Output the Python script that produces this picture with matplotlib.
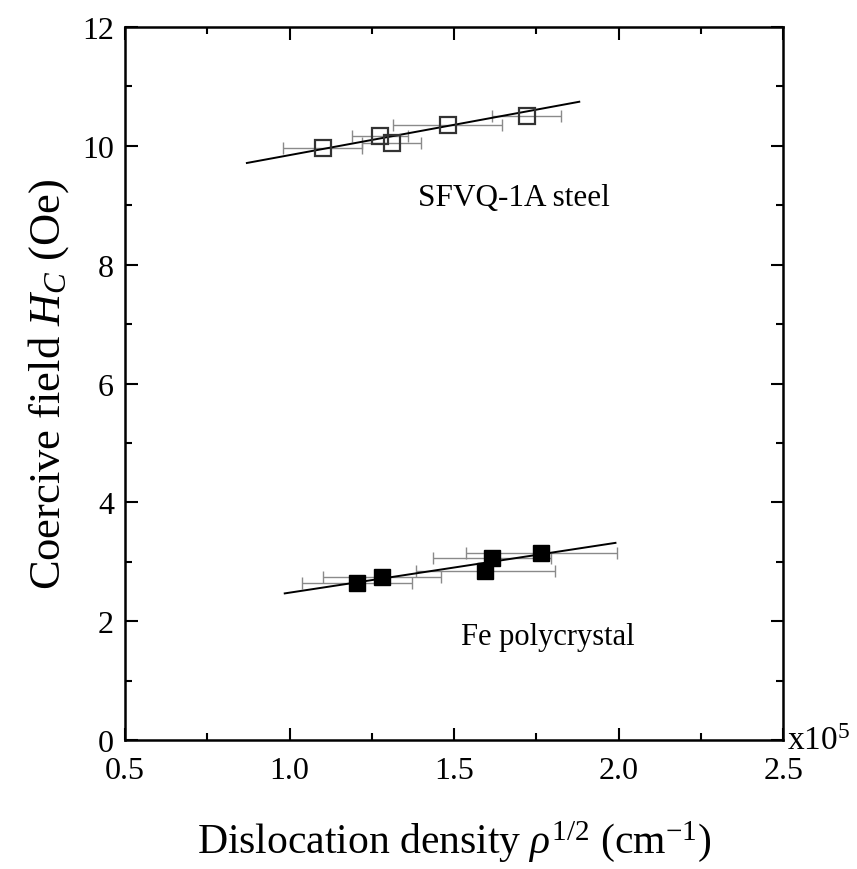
import numpy as np
import matplotlib
matplotlib.use("Agg")
import matplotlib.pyplot as plt
from matplotlib.ticker import MultipleLocator

plt.rcParams['font.family'] = ['Liberation Serif', 'DejaVu Serif']
plt.rcParams['mathtext.fontset'] = 'custom'
plt.rcParams['mathtext.rm'] = 'Liberation Serif'
plt.rcParams['mathtext.it'] = 'Liberation Serif:italic'

# SFVQ-1A steel (open squares), x in units of 1e5 cm^-1
steel_x = [1.10, 1.275, 1.31, 1.48, 1.72]
steel_y = [9.96, 10.17, 10.05, 10.35, 10.50]
steel_xerr = [0.12, 0.085, 0.09, 0.165, 0.105]
steel_fit_x = [0.87, 1.88]
steel_fit_y = [9.71, 10.74]

# Fe polycrystal (filled squares)
fe_x = [1.205, 1.28, 1.595, 1.615, 1.765]
fe_y = [2.64, 2.74, 2.85, 3.06, 3.15]
fe_xerr = [0.167, 0.18, 0.21, 0.18, 0.23]
fe_fit_x = [0.985, 1.99]
fe_fit_y = [2.47, 3.32]

xticks = [0.5, 1.0, 1.5, 2.0, 2.5]

fig = plt.figure(figsize=(8.57, 8.7), dpi=100)
ax = fig.add_axes([0.146, 0.148, 0.768, 0.820])

ax.errorbar(steel_x, steel_y, xerr=steel_xerr, fmt='none', ecolor='#8a8a8a',
            elinewidth=1.0, capsize=4, capthick=1.0, zorder=2)
ax.plot(steel_fit_x, steel_fit_y, color='black', lw=1.4, zorder=3)
ax.plot(steel_x, steel_y, 's', ms=12, mfc='none', mec='#333333', mew=1.6, zorder=4)

ax.errorbar(fe_x, fe_y, xerr=fe_xerr, fmt='none', ecolor='#8a8a8a',
            elinewidth=1.0, capsize=4, capthick=1.0, zorder=2)
ax.plot(fe_fit_x, fe_fit_y, color='black', lw=1.4, zorder=3)
ax.plot(fe_x, fe_y, 's', ms=12, mfc='black', mec='black', zorder=4)

ax.text(1.39, 9.0, 'SFVQ-1A steel', fontsize=22.5)
ax.text(1.52, 1.62, 'Fe polycrystal', fontsize=22)

ax.set_xlim(0.5, 2.5)
ax.set_ylim(0, 12)
ax.set_xticks(xticks)
ax.set_xticklabels([f'{v:.1f}' for v in xticks])
ax.xaxis.set_minor_locator(MultipleLocator(0.25))
ax.yaxis.set_major_locator(MultipleLocator(2))
ax.yaxis.set_minor_locator(MultipleLocator(1))
ax.tick_params(which='both', direction='in', top=True, right=True, width=1.5,
               labelsize=23)
ax.tick_params(which='major', length=9)
ax.tick_params(which='minor', length=5)
ax.tick_params(axis='x', which='major', pad=11)
ax.tick_params(axis='y', which='major', pad=8)
for s in ax.spines.values():
    s.set_linewidth(1.8)

ax.text(1.005, 0.0, r'x10$^5$', transform=ax.transAxes, fontsize=24,
        ha='left', va='center')

ax.set_xlabel(r'Dislocation density $\rho^{1/2}$ (cm$^{-1}$)', fontsize=30, labelpad=24)
ax.set_ylabel(r'Coercive field $H_C$ (Oe)', fontsize=32, labelpad=8)

fig.savefig('out.png', dpi=100)
